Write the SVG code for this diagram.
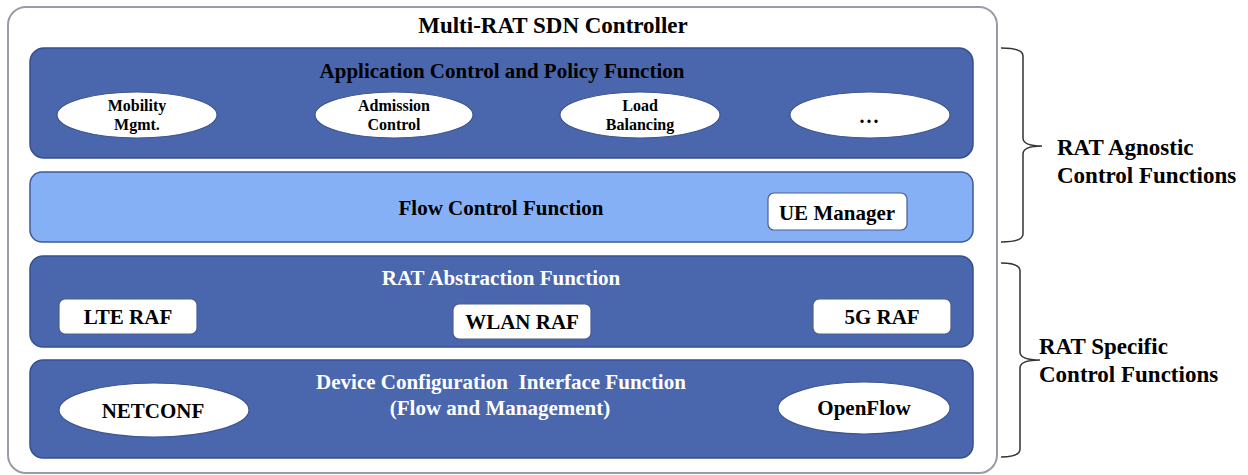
<svg xmlns="http://www.w3.org/2000/svg" width="1248" height="475" viewBox="0 0 1248 475">
<style>
text{font-family:"Liberation Serif","Times New Roman",serif;font-weight:bold;fill:#000}
.c{text-anchor:middle}
.w{fill:#fff}
.dark{fill:#4A66AC;stroke:#34508F;stroke-width:1.5}
.light{fill:#85B0F5;stroke:#3D5A9A;stroke-width:1.5}
.wb{fill:#fff;stroke:#4A5E90;stroke-width:1.2}
.el{fill:#fff;stroke:#3E5590;stroke-width:1.2}
.t21{font-size:21px}
.t20{font-size:20px}
.t16{font-size:16px}
.t23{font-size:23px}
.br{fill:none;stroke:#333;stroke-width:1.5}
</style>
<g id="controller">
<rect x="8" y="7" width="989" height="466" rx="18" fill="#fff" stroke="#9E98A8" stroke-width="2"/>
<text class="c t23" x="553" y="33">Multi-RAT SDN Controller</text>
</g>
<g id="app">
<rect class="dark" x="30" y="48" width="943" height="110" rx="14"/>
<text class="c t21" x="502" y="78">Application Control and Policy Function</text>
</g>
<g id="mobility">
<ellipse class="el" cx="137" cy="115" rx="80" ry="23"/>
<text class="c t16" x="137" y="111">Mobility</text>
<text class="c t16" x="137" y="130">Mgmt.</text>
</g>
<g id="admission">
<ellipse class="el" cx="394" cy="115" rx="79" ry="23"/>
<text class="c t16" x="394" y="111">Admission</text>
<text class="c t16" x="394" y="130">Control</text>
</g>
<g id="load">
<ellipse class="el" cx="640" cy="115" rx="80" ry="23"/>
<text class="c t16" x="640" y="111">Load</text>
<text class="c t16" x="640" y="130">Balancing</text>
</g>
<g id="more">
<ellipse class="el" cx="870" cy="115" rx="80" ry="23"/>
<text class="c t20" x="870" y="123" letter-spacing="2">...</text>
</g>
<g id="flow">
<rect class="light" x="30" y="172" width="943" height="70" rx="12"/>
<text class="c t21" x="501" y="215">Flow Control Function</text>
</g>
<g id="ue">
<rect class="wb" x="768" y="193" width="139" height="37" rx="6"/>
<text class="c t21" x="837" y="220">UE Manager</text>
</g>
<g id="raf">
<rect class="dark" x="30" y="256" width="943" height="91" rx="13"/>
<text class="c t21 w" x="501" y="285">RAT Abstraction Function</text>
</g>
<g id="lte">
<rect class="wb" x="59" y="299" width="138" height="35" rx="6"/>
<text class="c t21" x="128" y="324">LTE RAF</text>
</g>
<g id="wlan">
<rect class="wb" x="453" y="304" width="138" height="35" rx="6"/>
<text class="c t21" x="522" y="329">WLAN RAF</text>
</g>
<g id="g5">
<rect class="wb" x="813" y="299" width="138" height="35" rx="6"/>
<text class="c t21" x="882" y="324">5G RAF</text>
</g>
<g id="device">
<rect class="dark" x="30" y="360" width="943" height="98" rx="13"/>
<text class="c t21 w" x="501" y="389" xml:space="preserve">Device Configuration  Interface Function</text>
<text class="c t21 w" x="500" y="415">(Flow and Management)</text>
</g>
<g id="netconf">
<ellipse class="el" cx="154" cy="410" rx="95" ry="27"/>
<text class="c t21" x="153" y="418">NETCONF</text>
</g>
<g id="openflow">
<ellipse class="el" cx="864" cy="408" rx="86" ry="26"/>
<text class="c t21" x="864" y="415">OpenFlow</text>
</g>
<g id="connectors">
<path class="br" d="M1001 48 Q1023 48 1023 56 L1023 138 Q1023 146 1042 146 Q1023 146 1023 154 L1023 234 Q1023 242 1001 242"/>
<path class="br" d="M1001 263 Q1020 263 1020 271 L1020 352 Q1020 360 1040 360 Q1020 360 1020 368 L1020 449 Q1020 457 1001 457"/>
</g>
<g id="agnostic">
<text class="t23" x="1057" y="155">RAT Agnostic</text>
<text class="t23" x="1057" y="183">Control Functions</text>
</g>
<g id="specific">
<text class="t23" x="1039" y="354">RAT Specific</text>
<text class="t23" x="1039" y="382">Control Functions</text>
</g>
</svg>
